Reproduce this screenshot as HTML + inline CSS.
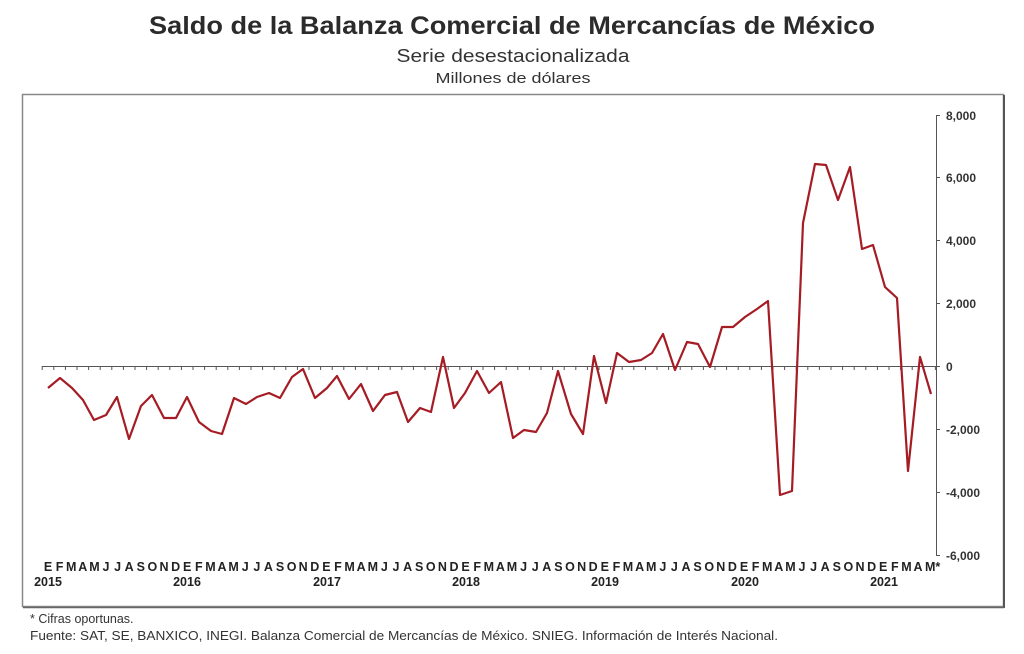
<!DOCTYPE html>
<html><head><meta charset="utf-8"><style>
html,body{margin:0;padding:0;background:#fff;}
svg{display:block;font-family:"Liberation Sans",Arial,sans-serif;}
</style></head><body>
<svg width="1024" height="654" viewBox="0 0 1024 654" xmlns="http://www.w3.org/2000/svg">
<rect width="1024" height="654" fill="#fff"/>
<text x="512" y="34" text-anchor="middle" font-size="25" font-weight="bold" fill="#2b2b2b" textLength="726" lengthAdjust="spacingAndGlyphs">Saldo de la Balanza Comercial de Mercancías de México</text>
<text x="513" y="62" text-anchor="middle" font-size="18" fill="#333" textLength="233" lengthAdjust="spacingAndGlyphs">Serie desestacionalizada</text>
<text x="513" y="83" text-anchor="middle" font-size="15" fill="#333" textLength="155" lengthAdjust="spacingAndGlyphs">Millones de dólares</text>
<rect x="22.5" y="94.5" width="981" height="512" fill="none" stroke="#888" stroke-width="1.5"/>
<line x1="1004" y1="95" x2="1004" y2="608" stroke="#555" stroke-width="2"/>
<line x1="23" y1="607.5" x2="1004" y2="607.5" stroke="#666" stroke-width="1.5"/>
<g stroke="#555" stroke-width="1">
<line x1="936.5" y1="115" x2="936.5" y2="556"/>
<line x1="936" y1="115.5" x2="940" y2="115.5"/>
<line x1="936" y1="177.5" x2="940" y2="177.5"/>
<line x1="936" y1="240.5" x2="940" y2="240.5"/>
<line x1="936" y1="303.5" x2="940" y2="303.5"/>
<line x1="936" y1="366.5" x2="940" y2="366.5"/>
<line x1="936" y1="429.5" x2="940" y2="429.5"/>
<line x1="936" y1="492.5" x2="940" y2="492.5"/>
<line x1="936" y1="555.5" x2="940" y2="555.5"/>
<line x1="42" y1="366.5" x2="936" y2="366.5"/>
</g>
<g font-size="12" font-weight="bold" fill="#333">
<text x="946" y="120">8,000</text>
<text x="946" y="182">6,000</text>
<text x="946" y="245">4,000</text>
<text x="946" y="308">2,000</text>
<text x="946" y="371">0</text>
<text x="946" y="434">-2,000</text>
<text x="946" y="497">-4,000</text>
<text x="946" y="560">-6,000</text>
</g>
<g id="ticks" stroke="#555" stroke-width="1"></g>
<polyline fill="none" stroke="#a51c24" stroke-width="2.2" stroke-linejoin="round" points="48,388 60,378 72,388 83,400 94,420 106,415 117,397 129,439 141,406 152,395 164,418 176,418 187,397 199,422 211,431 222,434 234,398 246,404 257,397 269,393 280,398 292,377 303,369 315,398 327,388 337,376 349,399 361,384 373,411 385,395 397,392 408,422 420,408 431,412 443,357 454,408 465,393 477,371 489,393 501,382 513,438 524,430 536,432 547,413 558,371 571,414 583,434 594,356 606,403 617,353 629,362 641,360 652,353 663,334 675,370 687,342 698,344 710,367 722,327 733,327 745,317 757,309 768,301 780,495 792,491 803,223 815,164 826,165 838,200 850,167 862,249 873,245 885,287 897,298 908,471 920,357 931,394"/>
<g id="months" font-size="12.5" font-weight="bold" fill="#222" text-anchor="middle"></g>
<g font-size="12.5" font-weight="bold" fill="#222" text-anchor="middle">
<text x="48" y="586">2015</text>
<text x="187" y="586">2016</text>
<text x="327" y="586">2017</text>
<text x="466" y="586">2018</text>
<text x="605" y="586">2019</text>
<text x="745" y="586">2020</text>
<text x="884" y="586">2021</text>
</g>
<text x="30" y="623" font-size="12.5" fill="#333">* Cifras oportunas.</text>
<text x="30" y="640" font-size="12.5" fill="#333" textLength="748" lengthAdjust="spacingAndGlyphs">Fuente: SAT, SE, BANXICO, INEGI. Balanza Comercial de Mercancías de México. SNIEG. Información de Interés Nacional.</text>
<script>
var ns="http://www.w3.org/2000/svg";
var L="EFMAMJJASOND";
var g=document.getElementById("months"),t=document.getElementById("ticks");
var sp=11.6;
for(var i=0;i<78;i++){var x=42.2+i*sp;var l=document.createElementNS(ns,"line");l.setAttribute("x1",x.toFixed(1));l.setAttribute("x2",x.toFixed(1));l.setAttribute("y1","366");l.setAttribute("y2","370");t.appendChild(l);}
for(var i=0;i<77;i++){var tx=document.createElementNS(ns,"text");var x=48+i*sp;if(i==76)x+=3;tx.setAttribute("x",x.toFixed(1));tx.setAttribute("y","571");tx.textContent=(i==76?"M*":L[i%12]);g.appendChild(tx);}
</script>
</svg>
</body></html>
